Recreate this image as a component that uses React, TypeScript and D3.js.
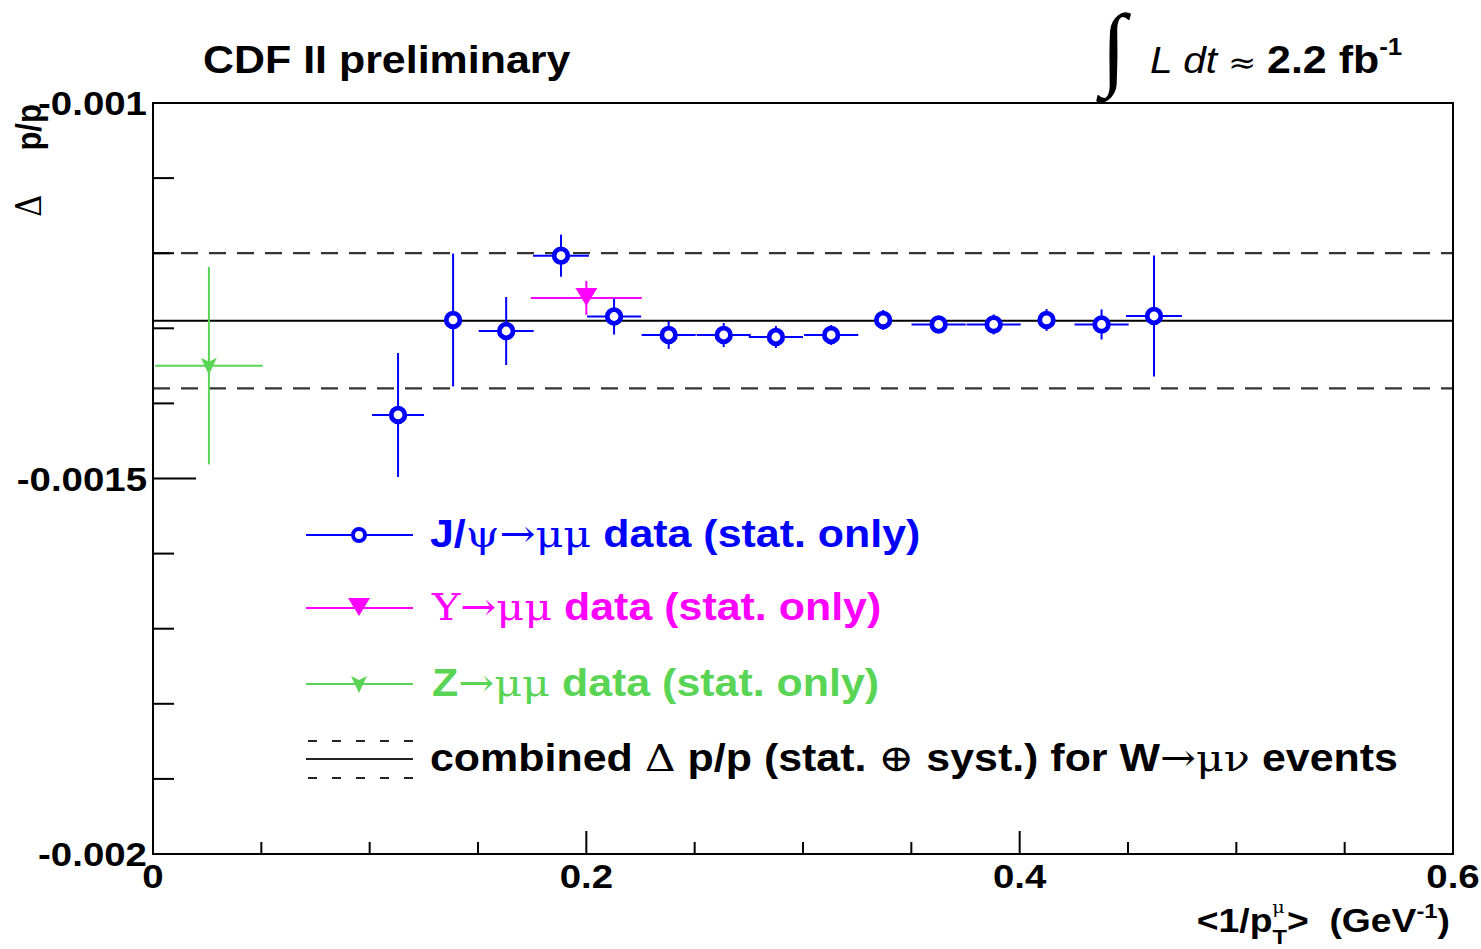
import React from 'react';
import * as d3 from 'd3';

// ---- data (y values in units of 1e-3) ----
const jpsiX = [0.1131, 0.1385, 0.163, 0.1883, 0.2128, 0.238, 0.2634, 0.2875, 0.313, 0.337, 0.3626, 0.388, 0.4124, 0.4378, 0.462];
const jpsiY = [-1.4154, -1.2889, -1.3036, -1.2033, -1.2843, -1.3089, -1.3089, -1.3116, -1.3089, -1.2889, -1.2949, -1.2949, -1.2889, -1.2949, -1.2836];
const jpsiXErr = [0.012, 0, 0.0127, 0.0129, 0.0125, 0.0125, 0.0125, 0.0125, 0.0125, 0, 0.0125, 0.0125, 0, 0.0125, 0.0129];
const jpsiYErr = [0.0826, 0.0885, 0.0453, 0.028, 0.024, 0.0186, 0.016, 0.0146, 0.0133, 0.0133, 0.0107, 0.0133, 0.0146, 0.02, 0.0806];

const upsX = [0.2];
const upsY = [-1.2595];
const upsXErr = [0.0256];
const upsYErr = [0.0226];

const zX = [0.0258];
const zY = [-1.3498];
const zXErr = [0.0248];
const zYErr = [0.1314];

const wCenter = -1.29;
const wErr = 0.09;

const xTicks = d3.range(0, 0.6 + 1e-9, 0.05);
const xLabels = [0, 0.2, 0.4, 0.6];
const yTicks = d3.range(-2.0, -1.0 + 1e-9, 0.1);
const yLabels = [-1.0, -1.5, -2.0];
const yLabelText = ['-0.001', '-0.0015', '-0.002'];

const BLUE = '#0000ff';
const MAGENTA = '#ff00ff';
const GREEN = '#59d454';
const SANS = '"Liberation Sans", Arial, Helvetica, sans-serif';
const SYM = '"DejaVu Serif", "Liberation Serif", serif';
const SX = 1.13;

const triDown = 'M -11,-10 L 11,-10 L 0,8 Z';
const triNotch = 'M -8,-8 L 0,-4 L 8,-8 L 0,9 Z';

function Txt({ x, y, anchor = 'start', children, ...rest }: any) {
  return (
    <g transform={`translate(${x},${y}) scale(${SX},1)`}>
      <text x={0} y={0} textAnchor={anchor} style={{ whiteSpace: 'pre' }} {...rest}>{children}</text>
    </g>
  );
}

export default function App() {
  const W = 1481, H = 949;
  const L = 153, R = 1453, T = 103, B = 854;
  const x = d3.scaleLinear().domain([0, 0.6]).range([L, R]);
  const y = d3.scaleLinear().domain([-2.0, -1.0]).range([B, T]);

  const errBars = (xs: number[], ys: number[], xe: number[], ye: number[], color: string) =>
    xs.map((xv, i) => (
      <g key={i} stroke={color} strokeWidth={2}>
        {xe[i] > 0 && <line x1={x(xv - xe[i])} x2={x(xv + xe[i])} y1={y(ys[i])} y2={y(ys[i])} />}
        {ye[i] > 0 && <line x1={x(xv)} x2={x(xv)} y1={y(ys[i] - ye[i])} y2={y(ys[i] + ye[i])} />}
      </g>
    ));

  const sym = (s: string) => <tspan fontFamily={SYM} fontWeight="normal">{s}</tspan>;

  return (
    <svg width={W} height={H} style={{ position: 'absolute', left: 0, top: 0, background: '#fff' }}
      fontFamily={SANS}>
      <defs>
        <clipPath id="frame">
          <rect x={L} y={T} width={R - L} height={B - T} />
        </clipPath>
      </defs>
      <rect x={0} y={0} width={W} height={H} fill="#fff" />

      {/* W band lines */}
      <g clipPath="url(#frame)">
        <line x1={L} x2={R} y1={y(wCenter)} y2={y(wCenter)} stroke="#000" strokeWidth={2} />
        <line x1={L} x2={R} y1={y(wCenter + wErr)} y2={y(wCenter + wErr)} stroke="#333" strokeWidth={2.2} strokeDasharray="17 11" />
        <line x1={L} x2={R} y1={y(wCenter - wErr)} y2={y(wCenter - wErr)} stroke="#333" strokeWidth={2.2} strokeDasharray="17 11" />

        {errBars(zX, zY, zXErr, zYErr, GREEN)}
        {zX.map((xv, i) => (
          <path key={i} d={triNotch} transform={`translate(${x(xv)},${y(zY[i])})`} fill={GREEN} />
        ))}
        {errBars(upsX, upsY, upsXErr, upsYErr, MAGENTA)}
        {upsX.map((xv, i) => (
          <path key={i} d={triDown} transform={`translate(${x(xv)},${y(upsY[i])})`} fill={MAGENTA} />
        ))}
        {errBars(jpsiX, jpsiY, jpsiXErr, jpsiYErr, BLUE)}
        {jpsiX.map((xv, i) => (
          <circle key={i} cx={x(xv)} cy={y(jpsiY[i])} r={6.8} fill="#fff" stroke={BLUE} strokeWidth={4.8} />
        ))}
      </g>

      {/* frame */}
      <rect x={L} y={T} width={R - L} height={B - T} fill="none" stroke="#000" strokeWidth={2} />

      {/* y ticks */}
      {yTicks.map((v, i) => {
        const major = Math.abs(Math.round(v * 2) - v * 2) < 1e-6;
        return <line key={i} x1={L} x2={L + (major ? 43 : 21)} y1={y(v)} y2={y(v)} stroke="#000" strokeWidth={2} />;
      })}
      {yLabels.map((v, i) => (
        <Txt key={i} x={147} y={y(v) + 12} anchor="end" fontSize={34} fontWeight="bold">{yLabelText[i]}</Txt>
      ))}

      {/* x ticks */}
      {xTicks.map((v, i) => {
        const major = Math.abs(Math.round(v * 5) - v * 5) < 1e-6;
        return <line key={i} x1={x(v)} x2={x(v)} y1={B} y2={B - (major ? 23 : 12)} stroke="#000" strokeWidth={2} />;
      })}
      {xLabels.map((v, i) => (
        <Txt key={i} x={x(v)} y={888} anchor="middle" fontSize={34} fontWeight="bold">{v === 0 ? '0' : String(v)}</Txt>
      ))}

      {/* axis titles */}
      <g transform={`translate(41,217) scale(${SX},1) rotate(-90)`}>
        <text x={0} y={0} fontSize={31} fontWeight="bold" style={{ whiteSpace: 'pre' }}>
          <tspan fontFamily={SYM} fontWeight="normal">Δ</tspan>
          <tspan dx={44}>p/p</tspan>
        </text>
      </g>
      <Txt x={1450} y={932} anchor="end" fontSize={33} fontWeight="bold">
        {'<1/p'}
        <tspan fontSize={21} dy={12}>T</tspan>
        <tspan fontSize={17} fontFamily={SYM} fontWeight="normal" dx={-13} dy={-31}>μ</tspan>
        <tspan dy={19} dx={2}>{'>  (GeV'}</tspan>
        <tspan fontSize={21} dy={-14}>-1</tspan>
        <tspan dy={14}>)</tspan>
      </Txt>

      {/* top texts */}
      <Txt x={203} y={73} fontSize={38} fontWeight="bold">CDF II preliminary</Txt>
      <text x={1101} y={78} fontSize={92} fontFamily='"Liberation Serif", serif'>∫</text>
      <Txt x={1150} y={73} fontSize={36}>
        <tspan fontStyle="italic">L dt</tspan>
        <tspan fontSize={30} fontFamily={SYM}>{' ≈ '}</tspan>
        <tspan fontWeight="bold" fontSize={38}>2.2 fb</tspan>
        <tspan fontWeight="bold" fontSize={23} dy={-18}>-1</tspan>
      </Txt>

      {/* legend */}
      <g>
        <line x1={306} x2={413} y1={535} y2={535} stroke={BLUE} strokeWidth={2} />
        <circle cx={359} cy={535} r={6} fill="#fff" stroke={BLUE} strokeWidth={4} />
        <Txt x={430} y={547} fontSize={38} fontWeight="bold" fill={BLUE}>
          {'J/'}{sym('ψ→μμ')}{' data (stat. only)'}
        </Txt>

        <line x1={306} x2={413} y1={608} y2={608} stroke={MAGENTA} strokeWidth={2} />
        <path d={triDown} transform="translate(359,608)" fill={MAGENTA} />
        <Txt x={432} y={620} fontSize={38} fontWeight="bold" fill={MAGENTA}>
          {sym('Υ→μμ')}{' data (stat. only)'}
        </Txt>

        <line x1={306} x2={413} y1={684} y2={684} stroke={GREEN} strokeWidth={2} />
        <path d={triNotch} transform="translate(359,684)" fill={GREEN} />
        <Txt x={432} y={696} fontSize={38} fontWeight="bold" fill={GREEN}>
          {'Z'}{sym('→μμ')}{' data (stat. only)'}
        </Txt>

        <line x1={308} x2={415} y1={741} y2={741} stroke="#222" strokeWidth={2} strokeDasharray="9 15" />
        <line x1={306} x2={413} y1={759} y2={759} stroke="#222" strokeWidth={2} />
        <line x1={308} x2={415} y1={778} y2={778} stroke="#222" strokeWidth={2} strokeDasharray="9 15" />
        <Txt x={430} y={771} fontSize={38} fontWeight="bold" fill="#000">
          {'combined '}{sym('Δ')}{' p/p (stat. '}{sym('⊕')}{' syst.) for W'}{sym('→μν')}{' events'}
        </Txt>
      </g>
    </svg>
  );
}
